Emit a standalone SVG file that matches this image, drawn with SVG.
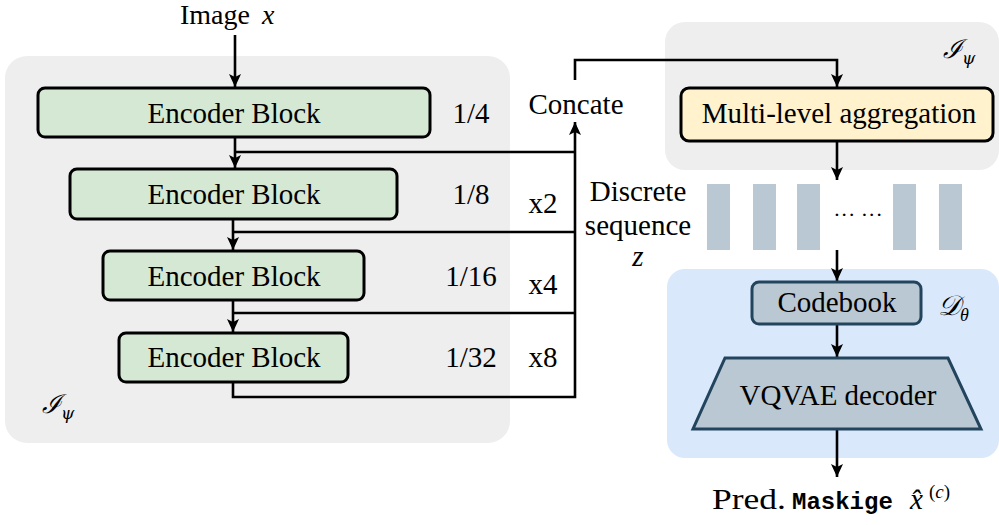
<svg xmlns="http://www.w3.org/2000/svg" width="999" height="525" viewBox="0 0 999 525">
<style>
text{font-family:"Liberation Serif","Times New Roman",serif;font-size:29px;fill:#000}
.c{text-anchor:middle}
.m{font-style:italic}
.enc{fill:#d5e8d4;stroke:#000;stroke-width:3}
.ln{fill:none;stroke:#000;stroke-width:2.6}
.bar{fill:#bac8d3}
.mono{font-family:"Liberation Mono",monospace;font-size:24px}
.sym{font-family:"DejaVu Serif",serif;font-style:italic;font-size:26px}
</style>
<defs>
<marker id="ah" markerUnits="userSpaceOnUse" markerWidth="14" markerHeight="14" viewBox="0 0 14 14" refX="13" refY="7" orient="auto">
<path d="M0,1 L13,7 L0,13 L3,7 z" fill="#000"/>
</marker>
</defs>
<g id="panel-encoder">
<rect x="5" y="56" width="505" height="387" rx="22" fill="#eeeeee"/>
<text x="42" y="413" class="sym">ℐ<tspan font-size="17" dy="6">ψ</tspan></text>
</g>
<g id="panel-agg">
<rect x="665" y="22" width="334" height="148" rx="20" fill="#eeeeee"/>
<text x="943" y="58" class="sym">ℐ<tspan font-size="17" dy="6">ψ</tspan></text>
</g>
<g id="panel-decoder">
<rect x="667" y="269" width="332" height="189" rx="18" fill="#dae8fc"/>
<text x="938" y="315" class="m" style="font-size:28px">𝒟<tspan font-size="18" dy="6">θ</tspan></text>
</g>
<g id="connectors">
<path class="ln" d="M235,35 V87" marker-end="url(#ah)"/>
<path class="ln" d="M235,137 V168" marker-end="url(#ah)"/>
<path class="ln" d="M235,152 H575"/>
<path class="ln" d="M233,219 V250" marker-end="url(#ah)"/>
<path class="ln" d="M233,232 H575"/>
<path class="ln" d="M233,300 V332" marker-end="url(#ah)"/>
<path class="ln" d="M233,313 H575"/>
<path class="ln" d="M233,382 V397 H575 V122" marker-end="url(#ah)"/>
<path class="ln" d="M575,80 V60 H837 V87" marker-end="url(#ah)"/>
<path class="ln" d="M837,141 V180" marker-end="url(#ah)"/>
<path class="ln" d="M837,250 V281" marker-end="url(#ah)"/>
<path class="ln" d="M837,324 V357" marker-end="url(#ah)"/>
<path class="ln" d="M837,429 V477" marker-end="url(#ah)"/>
</g>
<g id="image-label">
<text x="180" y="24" style="font-size:28px">Image<tspan class="m" x="262">x</tspan></text>
</g>
<g id="enc1">
<rect class="enc" x="38" y="88" width="392" height="49" rx="7"/>
<text class="c" x="234" y="123">Encoder Block</text>
<text class="c" x="471" y="123">1/4</text>
</g>
<g id="enc2">
<rect class="enc" x="70" y="169" width="327" height="50" rx="7"/>
<text class="c" x="234" y="204">Encoder Block</text>
<text class="c" x="471" y="204">1/8</text>
</g>
<g id="enc3">
<rect class="enc" x="103" y="251" width="261" height="49" rx="7"/>
<text class="c" x="234" y="286">Encoder Block</text>
<text class="c" x="471" y="286">1/16</text>
</g>
<g id="enc4">
<rect class="enc" x="119" y="333" width="229" height="49" rx="7"/>
<text class="c" x="234" y="367">Encoder Block</text>
<text class="c" x="471" y="367">1/32</text>
</g>
<g id="scales">
<text class="c" x="543" y="213">x2</text>
<text class="c" x="543" y="294">x4</text>
<text class="c" x="543" y="367">x8</text>
</g>
<g id="concate">
<text class="c" x="576" y="114">Concate</text>
</g>
<g id="multi-level">
<rect x="681" y="88" width="312" height="53" rx="8" fill="#fff2cc" stroke="#000" stroke-width="3"/>
<text class="c" x="839" y="123">Multi-level aggregation</text>
</g>
<g id="sequence">
<text class="c" x="638" y="201">Discrete</text>
<text class="c" x="638" y="235">sequence</text>
<text class="c m" x="638" y="266">z</text>
<rect class="bar" x="707" y="184" width="23" height="66"/>
<rect class="bar" x="753" y="184" width="23" height="66"/>
<rect class="bar" x="797" y="184" width="23" height="66"/>
<rect class="bar" x="893" y="184" width="23" height="66"/>
<rect class="bar" x="939" y="184" width="23" height="66"/>
<text class="c" x="858" y="222" style="font-size:22px">··· ···</text>
</g>
<g id="codebook">
<rect x="752" y="282" width="169" height="42" rx="7" fill="#bac8d3" stroke="#23445d" stroke-width="3"/>
<text class="c" x="837" y="312">Codebook</text>
</g>
<g id="vqvae">
<polygon points="725,358 948,358 981,429 693,429" fill="#bac8d3" stroke="#23445d" stroke-width="3"/>
<text class="c" x="838" y="405">VQVAE decoder</text>
</g>
<g id="output">
<text x="712" y="509" textLength="74" lengthAdjust="spacingAndGlyphs">Pred.</text>
<text x="792" y="509" class="mono" style="font-weight:bold">Maskige</text>
<text x="910" y="509" class="m">x̂<tspan font-size="19" x="929" y="498" font-style="normal">(</tspan><tspan font-size="19">c</tspan><tspan font-size="19" font-style="normal">)</tspan></text>
</g>
</svg>
